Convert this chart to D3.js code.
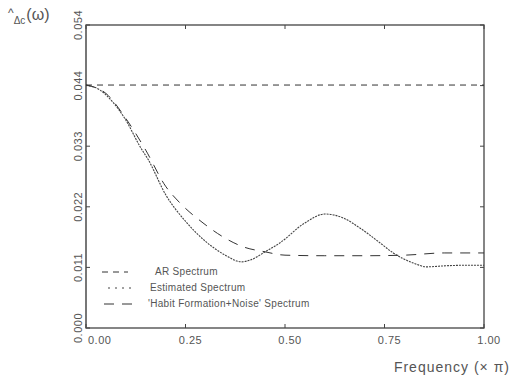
<!DOCTYPE html>
<html lang="en">
<head>
<meta charset="UTF-8">
<title>Spectrum of consumption growth</title>
<script src="https://d3js.org/d3.v7.min.js"></script>
<style>
	body { margin: 0; background: #fff; }
	svg text { font-family: "Liberation Sans", "DejaVu Sans", sans-serif; fill: #555; }
</style>
</head>
<body>
<div id="chart"></div>
<script>
// frequencies (x pi) and spectra
const freqEst = [0, 0.035, 0.069, 0.1, 0.136, 0.157, 0.2, 0.25, 0.3, 0.35, 0.39, 0.412, 0.45, 0.487, 0.55, 0.6, 0.646, 0.688, 0.739, 0.772, 0.822, 0.856, 0.906, 0.965, 1.0];
const estimated = [0.0437, 0.0428, 0.0405, 0.0374, 0.0326, 0.0302, 0.0240, 0.0192, 0.0156, 0.0131, 0.0119, 0.0122, 0.0137, 0.0153, 0.0189, 0.0205, 0.0198, 0.0180, 0.0153, 0.0135, 0.0117, 0.0110, 0.0112, 0.0113, 0.0113];

const freqHabit = [0, 0.05, 0.1, 0.15, 0.2, 0.236, 0.294, 0.344, 0.395, 0.45, 0.5, 0.6, 0.7, 0.8, 0.9, 1.0];
const habit = [0.0437, 0.0422, 0.0377, 0.0320, 0.0255, 0.0225, 0.0189, 0.0164, 0.0146, 0.0137, 0.0131, 0.0130, 0.0130, 0.0131, 0.0135, 0.0135];

const freqAR = [0, 1.0];
const arSpec = [0.0437, 0.0437];

const xTicks = [0, 0.25, 0.5, 0.75, 1.0];
const xTickLabels = ["0.00", "0.25", "0.50", "0.75", "1.00"];
const yTicks = [0, 0.0109, 0.0218, 0.0327, 0.0436, 0.0545];
const yTickLabels = ["0.000", "0.011", "0.022", "0.033", "0.044", "0.054"];

const legendLabels = ["AR Spectrum", "Estimated Spectrum", "'Habit Formation+Noise' Spectrum"];

const width = 512, height = 380;
const margin = { top: 25, right: 28, bottom: 52, left: 86 };

const svg = d3.select("#chart").append("svg")
	.attr("width", width)
	.attr("height", height);

const x = d3.scaleLinear().domain([0, 1]).range([margin.left, width - margin.right]);
const y = d3.scaleLinear().domain([0, 0.0545]).range([height - margin.bottom, margin.top]);

const g = svg.append("g");

// frame
g.append("rect")
	.attr("x", x(0)).attr("y", y(0.0545))
	.attr("width", x(1) - x(0)).attr("height", y(0) - y(0.0545))
	.attr("fill", "none").attr("stroke", "#444").attr("stroke-width", 1.3);
g.append("line")
	.attr("x1", x(0)).attr("x2", x(0))
	.attr("y1", y(0)).attr("y2", y(0.0545))
	.attr("stroke", "#777").attr("stroke-width", 2);

// ticks, inward on all four sides
const tickLen = 4;
yTicks.forEach((t, i) => {
	g.append("line").attr("x1", x(0)).attr("x2", x(0) + tickLen)
		.attr("y1", y(t)).attr("y2", y(t)).attr("stroke", "#444");
	g.append("line").attr("x1", x(1)).attr("x2", x(1) - tickLen)
		.attr("y1", y(t)).attr("y2", y(t)).attr("stroke", "#444");
	g.append("text")
		.attr("transform", `translate(${x(0) - 4},${y(t)}) rotate(-90)`)
		.attr("text-anchor", "middle")
		.attr("font-size", 11)
		.attr("letter-spacing", 0.5)
		.text(yTickLabels[i]);
});

xTicks.forEach((t, i) => {
	g.append("line").attr("x1", x(t)).attr("x2", x(t))
		.attr("y1", y(0)).attr("y2", y(0) - tickLen).attr("stroke", "#444");
	g.append("line").attr("x1", x(t)).attr("x2", x(t))
		.attr("y1", y(0.0545)).attr("y2", y(0.0545) + tickLen).attr("stroke", "#444");
	g.append("text")
		.attr("x", i === 0 ? x(t) + 2 : x(t) + 5)
		.attr("y", y(0) + 16)
		.attr("text-anchor", i === 0 ? "start" : "middle")
		.attr("font-size", 11)
		.attr("letter-spacing", 0.5)
		.text(xTickLabels[i]);
});

// series
const series = [
	{ xs: freqAR, ys: arSpec, dash: "6,5", color: "#333", w: 1 },
	{ xs: freqEst, ys: estimated, dash: "2,1", color: "#444", w: 1.1 },
	{ xs: freqHabit, ys: habit, dash: "10,8", color: "#333", w: 1 }
];

const line = d3.line()
	.x(d => x(d[0]))
	.y(d => y(d[1]))
	.curve(d3.curveMonotoneX);

series.forEach(s => {
	g.append("path")
		.datum(s.xs.map((v, i) => [v, s.ys[i]]))
		.attr("d", line)
		.attr("fill", "none")
		.attr("stroke", s.color)
		.attr("stroke-width", s.w)
		.attr("stroke-dasharray", s.dash);
});

// legend
const legendRows = [272, 288, 304];
const legendSample = [[102, 128], [108, 132], [104, 136]];
const legendTextX = [155, 150, 148];
legendLabels.forEach((lab, i) => {
	g.append("line")
		.attr("x1", legendSample[i][0]).attr("x2", legendSample[i][1])
		.attr("y1", legendRows[i]).attr("y2", legendRows[i])
		.attr("stroke", series[i].color)
		.attr("stroke-width", series[i].w)
		.attr("stroke-dasharray", i === 1 ? "2,5" : series[i].dash);
	g.append("text")
		.attr("x", legendTextX[i])
		.attr("y", legendRows[i] + 3)
		.attr("font-size", 10)
		.attr("letter-spacing", 0.3)
		.text(lab);
});

// axis titles
const yt = svg.append("text").attr("x", 8).attr("y", 20).attr("font-size", 16);
yt.append("tspan").attr("font-size", 12).attr("dy", -3).text("^");
yt.append("tspan").attr("font-size", 10).attr("dy", 7).text("Δc");
yt.append("tspan").attr("dy", -4).attr("dx", 1).text("(ω)");

svg.append("text")
	.attr("x", width - 2)
	.attr("y", 372)
	.attr("text-anchor", "end")
	.attr("font-size", 14)
	.attr("letter-spacing", 1)
	.text("Frequency (× π)");
</script>
</body>
</html>
